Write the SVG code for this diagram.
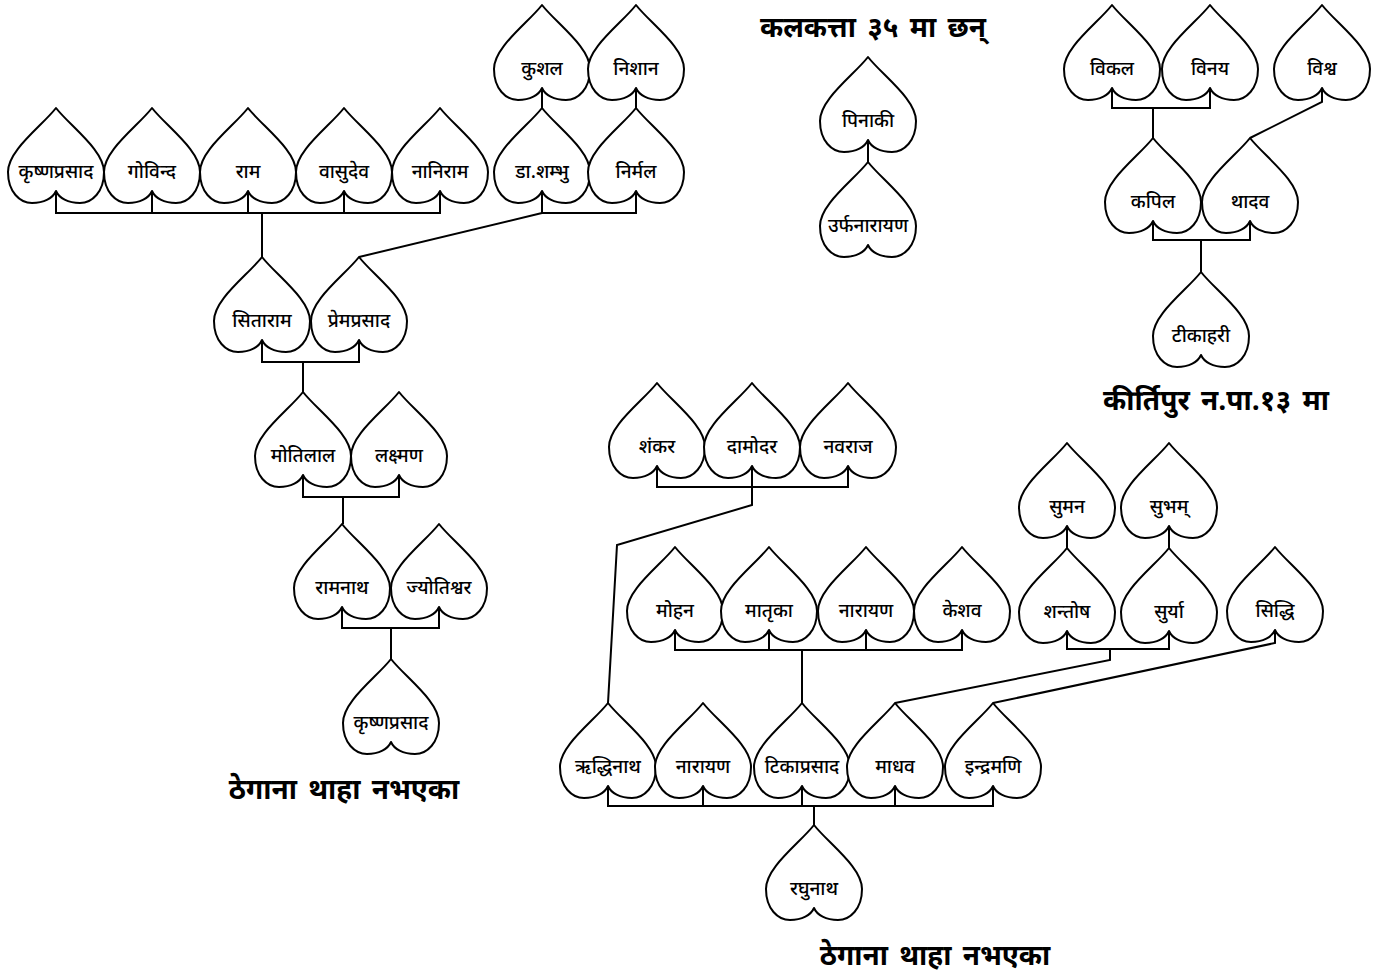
<svg xmlns="http://www.w3.org/2000/svg" xmlns:xlink="http://www.w3.org/1999/xlink" width="1390" height="978" viewBox="0 0 1390 978">
<style>
  .h { fill: #fff; stroke: #000; stroke-width: 2; stroke-linejoin: round; }
  .c { fill: none; stroke: #000; stroke-width: 2; }
  .t { font-family: "Noto Sans Devanagari", "Lohit Devanagari", "Noto Sans", "DejaVu Sans", sans-serif; font-size: 19px; font-weight: 500; text-anchor: middle; fill: #000; }
  .ttl { font-family: "Noto Sans Devanagari", "Lohit Devanagari", "Noto Sans", "DejaVu Sans", sans-serif; font-size: 28px; font-weight: bold; word-spacing: 4px; text-anchor: middle; fill: #000; }
</style>
<defs>
  <path id="heart" class="h" d="M0,0 C-14,18 -48,42 -48,64 C-48,84 -36,95 -24,95 C-12,95 -3,90 0,83 C3,90 12,95 24,95 C36,95 48,84 48,64 C48,42 14,18 0,0 Z"/>
</defs>
<rect width="1390" height="978" fill="#fff"/>

<g id="connectors">
  <polyline class="c" points="56,191 56,213 440,213 440,191"/>
  <line class="c" x1="152" y1="191" x2="152" y2="213"/>
  <line class="c" x1="248" y1="191" x2="248" y2="213"/>
  <line class="c" x1="344" y1="191" x2="344" y2="213"/>
  <line class="c" x1="262" y1="213" x2="262" y2="257"/>
  <polyline class="c" points="542,191 542,213 636,213 636,191"/>
  <line class="c" x1="542" y1="213" x2="359" y2="257"/>
  <line class="c" x1="542" y1="88" x2="542" y2="108"/>
  <line class="c" x1="636" y1="88" x2="636" y2="108"/>
  <polyline class="c" points="262,340 262,362 359,362 359,340"/>
  <line class="c" x1="303" y1="362" x2="303" y2="392"/>
  <polyline class="c" points="303,475 303,497 399,497 399,475"/>
  <line class="c" x1="343" y1="497" x2="343" y2="524"/>
  <polyline class="c" points="342,607 342,628 439,628 439,607"/>
  <line class="c" x1="391" y1="628" x2="391" y2="659"/>
  <line class="c" x1="868" y1="140" x2="868" y2="162"/>
  <polyline class="c" points="1112,88 1112,108 1210,108 1210,88"/>
  <line class="c" x1="1153" y1="108" x2="1153" y2="138"/>
  <polyline class="c" points="1322,88 1322,102 1250,138"/>
  <polyline class="c" points="1153,221 1153,240 1250,240 1250,221"/>
  <line class="c" x1="1201" y1="240" x2="1201" y2="272"/>
  <polyline class="c" points="657,466 657,487 848,487 848,466"/>
  <polyline class="c" points="752,466 752,505 617,545 608,703"/>
  <polyline class="c" points="675,630 675,650 962,650 962,630"/>
  <line class="c" x1="769" y1="630" x2="769" y2="650"/>
  <line class="c" x1="866" y1="630" x2="866" y2="650"/>
  <line class="c" x1="802" y1="650" x2="802" y2="703"/>
  <line class="c" x1="1067" y1="526" x2="1067" y2="548"/>
  <line class="c" x1="1169" y1="526" x2="1169" y2="548"/>
  <polyline class="c" points="1067,631 1067,649 1169,649 1169,631"/>
  <polyline class="c" points="1110,649 1110,660 895,703"/>
  <polyline class="c" points="1275,630 1275,643 993,703"/>
  <polyline class="c" points="608,786 608,806 993,806 993,786"/>
  <line class="c" x1="703" y1="786" x2="703" y2="806"/>
  <line class="c" x1="802" y1="786" x2="802" y2="806"/>
  <line class="c" x1="895" y1="786" x2="895" y2="806"/>
  <line class="c" x1="814" y1="806" x2="814" y2="825"/>
</g>

<g id="n-krishnaprasad1"><use xlink:href="#heart" href="#heart" x="56" y="108"/><text class="t" x="56" y="178">कृष्णप्रसाद</text></g>
<g id="n-gobinda"><use xlink:href="#heart" href="#heart" x="152" y="108"/><text class="t" x="152" y="178">गोविन्द</text></g>
<g id="n-ram"><use xlink:href="#heart" href="#heart" x="248" y="108"/><text class="t" x="248" y="178">राम</text></g>
<g id="n-basudev"><use xlink:href="#heart" href="#heart" x="344" y="108"/><text class="t" x="344" y="178">वासुदेव</text></g>
<g id="n-naniram"><use xlink:href="#heart" href="#heart" x="440" y="108"/><text class="t" x="440" y="178">नानिराम</text></g>
<g id="n-shambhu"><use xlink:href="#heart" href="#heart" x="542" y="108"/><text class="t" x="542" y="178">डा.शम्भु</text></g>
<g id="n-nirmal"><use xlink:href="#heart" href="#heart" x="636" y="108"/><text class="t" x="636" y="178">निर्मल</text></g>
<g id="n-kushal"><use xlink:href="#heart" href="#heart" x="542" y="5"/><text class="t" x="542" y="75">कुशल</text></g>
<g id="n-nishan"><use xlink:href="#heart" href="#heart" x="636" y="5"/><text class="t" x="636" y="75">निशान</text></g>
<g id="n-sitaram"><use xlink:href="#heart" href="#heart" x="262" y="257"/><text class="t" x="262" y="327">सिताराम</text></g>
<g id="n-premprasad"><use xlink:href="#heart" href="#heart" x="359" y="257"/><text class="t" x="359" y="327">प्रेमप्रसाद</text></g>
<g id="n-motilal"><use xlink:href="#heart" href="#heart" x="303" y="392"/><text class="t" x="303" y="462">मोतिलाल</text></g>
<g id="n-laxman"><use xlink:href="#heart" href="#heart" x="399" y="392"/><text class="t" x="399" y="462">लक्ष्मण</text></g>
<g id="n-ramnath"><use xlink:href="#heart" href="#heart" x="342" y="524"/><text class="t" x="342" y="594">रामनाथ</text></g>
<g id="n-jyotishwar"><use xlink:href="#heart" href="#heart" x="439" y="524"/><text class="t" x="439" y="594">ज्योतिश्वर</text></g>
<g id="n-krishnaprasad2"><use xlink:href="#heart" href="#heart" x="391" y="659"/><text class="t" x="391" y="729">कृष्णप्रसाद</text></g>

<g id="n-pinaki"><use xlink:href="#heart" href="#heart" x="868" y="57"/><text class="t" x="868" y="127">पिनाकी</text></g>
<g id="n-urfanarayan"><use xlink:href="#heart" href="#heart" x="868" y="162"/><text class="t" x="868" y="232">उर्फनारायण</text></g>

<g id="n-bikal"><use xlink:href="#heart" href="#heart" x="1112" y="5"/><text class="t" x="1112" y="75">विकल</text></g>
<g id="n-binaya"><use xlink:href="#heart" href="#heart" x="1210" y="5"/><text class="t" x="1210" y="75">विनय</text></g>
<g id="n-bishwa"><use xlink:href="#heart" href="#heart" x="1322" y="5"/><text class="t" x="1322" y="75">विश्व</text></g>
<g id="n-kapil"><use xlink:href="#heart" href="#heart" x="1153" y="138"/><text class="t" x="1153" y="208">कपिल</text></g>
<g id="n-thadav"><use xlink:href="#heart" href="#heart" x="1250" y="138"/><text class="t" x="1250" y="208">थादव</text></g>
<g id="n-tikahari"><use xlink:href="#heart" href="#heart" x="1201" y="272"/><text class="t" x="1201" y="342">टीकाहरी</text></g>

<g id="n-shankar"><use xlink:href="#heart" href="#heart" x="657" y="383"/><text class="t" x="657" y="453">शंकर</text></g>
<g id="n-damodar"><use xlink:href="#heart" href="#heart" x="752" y="383"/><text class="t" x="752" y="453">दामोदर</text></g>
<g id="n-navaraj"><use xlink:href="#heart" href="#heart" x="848" y="383"/><text class="t" x="848" y="453">नवराज</text></g>
<g id="n-mohan"><use xlink:href="#heart" href="#heart" x="675" y="547"/><text class="t" x="675" y="617">मोहन</text></g>
<g id="n-matrika"><use xlink:href="#heart" href="#heart" x="769" y="547"/><text class="t" x="769" y="617">मातृका</text></g>
<g id="n-narayan1"><use xlink:href="#heart" href="#heart" x="866" y="547"/><text class="t" x="866" y="617">नारायण</text></g>
<g id="n-keshav"><use xlink:href="#heart" href="#heart" x="962" y="547"/><text class="t" x="962" y="617">केशव</text></g>
<g id="n-suman"><use xlink:href="#heart" href="#heart" x="1067" y="443"/><text class="t" x="1067" y="513">सुमन</text></g>
<g id="n-subham"><use xlink:href="#heart" href="#heart" x="1169" y="443"/><text class="t" x="1169" y="513">सुभम्</text></g>
<g id="n-santosh"><use xlink:href="#heart" href="#heart" x="1067" y="548"/><text class="t" x="1067" y="618">शन्तोष</text></g>
<g id="n-surya"><use xlink:href="#heart" href="#heart" x="1169" y="548"/><text class="t" x="1169" y="618">सुर्या</text></g>
<g id="n-siddhi"><use xlink:href="#heart" href="#heart" x="1275" y="547"/><text class="t" x="1275" y="617">सिद्धि</text></g>
<g id="n-riddhinath"><use xlink:href="#heart" href="#heart" x="608" y="703"/><text class="t" x="608" y="773">ऋद्धिनाथ</text></g>
<g id="n-narayan2"><use xlink:href="#heart" href="#heart" x="703" y="703"/><text class="t" x="703" y="773">नारायण</text></g>
<g id="n-tikaprasad"><use xlink:href="#heart" href="#heart" x="802" y="703"/><text class="t" x="802" y="773">टिकाप्रसाद</text></g>
<g id="n-madhav"><use xlink:href="#heart" href="#heart" x="895" y="703"/><text class="t" x="895" y="773">माधव</text></g>
<g id="n-indramani"><use xlink:href="#heart" href="#heart" x="993" y="703"/><text class="t" x="993" y="773">इन्द्रमणि</text></g>
<g id="n-raghunath"><use xlink:href="#heart" href="#heart" x="814" y="825"/><text class="t" x="814" y="895">रघुनाथ</text></g>

<g id="titles">
  <text class="ttl" x="873" y="37">कलकत्ता ३५ मा छन्</text>
  <text class="ttl" x="1216" y="410">कीर्तिपुर न.पा.१३ मा</text>
  <text class="ttl" x="344" y="799">ठेगाना थाहा नभएका</text>
  <text class="ttl" x="935" y="965">ठेगाना थाहा नभएका</text>
</g>
</svg>
